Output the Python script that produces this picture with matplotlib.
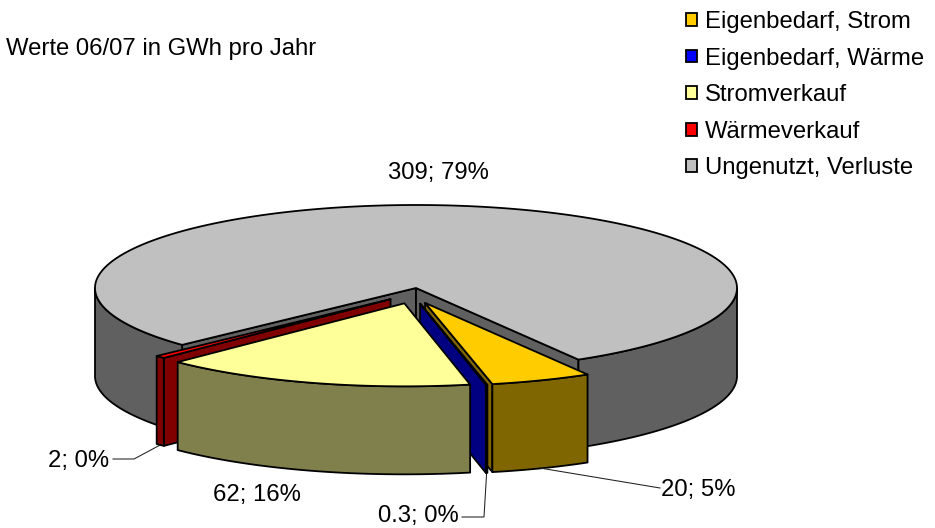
"""Exploded 3D pie chart: Energiebilanz, Werte 06/07 in GWh pro Jahr."""
import matplotlib
matplotlib.use('Agg')

import matplotlib.pyplot as plt
from matplotlib.patches import Patch, Polygon
import numpy as np

plt.rcParams['font.family'] = ['Liberation Sans', 'DejaVu Sans']

# Data
categories = ['Eigenbedarf, Strom', 'Eigenbedarf, Wärme', 'Stromverkauf',
              'Wärmeverkauf', 'Ungenutzt, Verluste']
values = [20, 0.3, 62, 2, 309]
value_labels = ['20; 5%', '0.3; 0%', '62; 16%', '2; 0%', '309; 79%']
exploded = [True, True, True, True, False]

# Colours
top_colors = ['#FFCC00', '#0000FF', '#FFFF99', '#FF0000', '#C0C0C0']
side_colors = ['#806600', '#000080', '#80804D', '#800000', '#606060']

# Geometry in pixels
CX, CY = 416, 288
RX, RY = 321, 83
DEPTH = 88
EXPLODE_X, EXPLODE_Y = 32, 16
SHIFT_X = -2.5
START_ANGLE = 149.6
LW = 1.3
FS = 17.2


def rim(cx, cy, angles):
    """Rim points, angle clockwise from the back of the pie."""
    rad = np.radians(angles)
    return cx + RX * np.sin(rad), cy - RY * np.cos(rad)


def slice_center(mid, explode):
    if not explode:
        return CX, CY
    rad = np.radians(mid)
    return CX + SHIFT_X + EXPLODE_X * np.sin(rad), CY - EXPLODE_Y * np.cos(rad)


def draw_poly(ax, xs, ys, color, z):
    ax.add_patch(Polygon(np.column_stack([xs, ys]), closed=True, facecolor=color,
                         edgecolor='black', linewidth=LW, joinstyle='round', zorder=z))


def cut_face(ax, cx, cy, angle, color, z):
    x, y = rim(cx, cy, angle)
    draw_poly(ax, [cx, x, x, cx], [cy, y, y + DEPTH, cy + DEPTH], color, z)


def outer_face(ax, cx, cy, a0, a1, color, z):
    # only the part of the rim turned towards the viewer
    for lo, hi in [(90, 270), (450, 630)]:
        s, e = max(a0, lo), min(a1, hi)
        if e <= s:
            continue
        ang = np.linspace(s, e, 200)
        x, y = rim(cx, cy, ang)
        draw_poly(ax, np.r_[x, x[::-1]], np.r_[y, y[::-1] + DEPTH], color, z)


def draw_slice(ax, a0, a1, explode, top, side, z):
    cx, cy = slice_center((a0 + a1) / 2, explode)
    if np.sin(np.radians(a0)) < 0:
        cut_face(ax, cx, cy, a0, side, z)
    if np.sin(np.radians(a1)) > 0:
        cut_face(ax, cx, cy, a1, side, z + 0.1)
    outer_face(ax, cx, cy, a0, a1, side, z + 0.2)
    ang = np.linspace(a0, a1, 300)
    x, y = rim(cx, cy, ang)
    draw_poly(ax, np.r_[cx, x], np.r_[cy, y], top, z + 0.3)


fig = plt.figure(figsize=(9.35, 5.28), dpi=100)
ax = fig.add_axes([0, 0, 1, 1])
ax.set_xlim(0, 935)
ax.set_ylim(528, 0)
ax.axis('off')

sweeps = np.array(values) / sum(values) * 360
starts = START_ANGLE + np.r_[0, np.cumsum(sweeps)[:-1]]
ends = starts + sweeps

# back to front: grey, red, orange, blue, yellow
paint_order = [4, 3, 0, 1, 2]
for z, i in enumerate(paint_order):
    draw_slice(ax, starts[i], ends[i], exploded[i], top_colors[i], side_colors[i], 2 + z)

# Labels with leader lines
label_pos = [(698, 490), (418, 516), (257, 495), (79, 461), (438, 173)]
for lab, (x, y) in zip(value_labels, label_pos):
    ax.text(x, y, lab, fontsize=FS, ha='center', va='center', color='black', zorder=10)


def leader_start(i):
    mid = (starts[i] + ends[i]) / 2
    cx, cy = slice_center(mid, exploded[i])
    x, y = rim(cx, cy, mid)
    return x, y + DEPTH


leaders = [(0, [(660, 488)]), (1, [(484, 517), (462, 517)]), (3, [(134, 459), (113, 459)])]
for i, pts in leaders:
    x0, y0 = leader_start(i)
    ax.plot([x0] + [p[0] for p in pts], [y0] + [p[1] for p in pts],
            color='#202020', lw=0.75, zorder=1.5 if i != 0 else 9)

ax.text(6, 49, 'Werte 06/07 in GWh pro Jahr', fontsize=FS, ha='left', va='center')

handles = [Patch(facecolor=c, edgecolor='black', linewidth=LW) for c in top_colors]
ax.legend(handles, categories, loc='upper left', bbox_to_anchor=(686 / 935, 1 - 11 / 528),
          frameon=False, fontsize=FS, handlelength=0.44, handleheight=0.44,
          handletextpad=0.36, labelspacing=0.61, borderpad=0, borderaxespad=0)

fig.savefig('out.png', dpi=100, facecolor='white')
